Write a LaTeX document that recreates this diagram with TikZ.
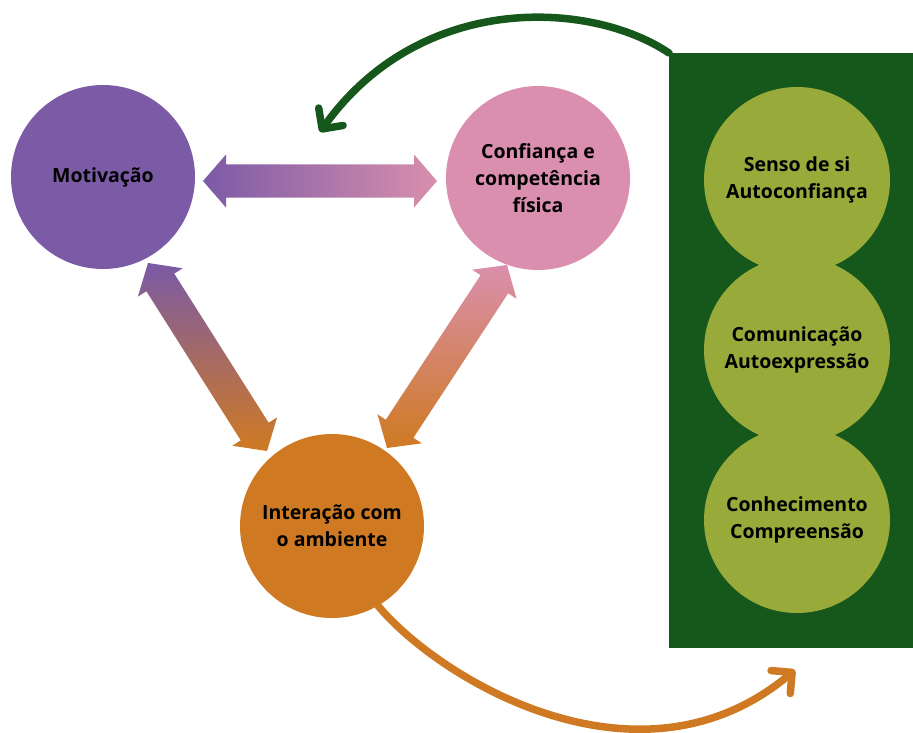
\documentclass[tikz,border=0pt]{standalone}
\usepackage{fontspec}
\setmainfont{Open Sans}
\usetikzlibrary{arrows.meta,calc}
\definecolor{cpurple}{HTML}{7B5AA6}
\definecolor{cpink}{HTML}{D98FAD}
\definecolor{corange}{HTML}{CF7A22}
\definecolor{cdgreen}{HTML}{16581B}
\definecolor{clgreen}{HTML}{98AB3A}
\newcommand\fatarrow[3]{%
  \coordinate (fa1) at ($(#1)!23pt!(#2)$);
  \coordinate (fa2) at ($(#2)!23pt!(#1)$);
  \shade[#3] (#1) -- ($(fa1)!26.5pt!90:(#2)$) -- ($(fa1)!16.5pt!90:(#2)$)
     -- ($(fa2)!16.5pt!-90:(#1)$) -- ($(fa2)!26.5pt!-90:(#1)$) -- (#2)
     -- ($(fa2)!26.5pt!90:(#1)$) -- ($(fa2)!16.5pt!90:(#1)$)
     -- ($(fa1)!16.5pt!-90:(#2)$) -- ($(fa1)!26.5pt!-90:(#2)$) -- cycle;}
\begin{document}
\begin{tikzpicture}[x=1pt,y=1pt,
  bubble/.style={circle, minimum size=184pt, inner sep=0pt, align=center,
    font=\fontsize{19.5}{27}\selectfont\bfseries, text=black},
  curvearrow/.style={line width=7.5pt, line cap=round,
    -{Straight Barb[length=15pt,width=30pt,line cap=round,line join=round]}}]
\useasboundingbox (0,0) rectangle (913,-733);
% main circles
\node[bubble, fill=cpurple] (mot) at (103,-177) {Motivação};
\node[bubble, fill=cpink] (conf) at (538,-178) {Confiança e\\competência\\física};
\node[bubble, fill=corange] (inter) at (332,-526) {Interação com\\o ambiente};
% green panel
\node[fill=cdgreen, minimum width=244pt, minimum height=595pt, inner sep=0pt,
  anchor=north west] (panel) at (669,-53) {};
\node[bubble, fill=clgreen, minimum size=186pt] (senso) at (797,-180) {Senso de si\\Autoconfiança};
\node[bubble, fill=clgreen, minimum size=186pt] (comu) at (797,-350) {Comunicação\\Autoexpressão};
\node[bubble, fill=clgreen, minimum size=186pt] (conh) at (797,-520) {Conhecimento\\Compreensão};
% fat double arrows
\coordinate (h1) at (203,-181);
\coordinate (h2) at (437,-181);
\fatarrow{h1}{h2}{left color=cpurple, right color=cpink}
\coordinate (l1) at (148,-263);
\coordinate (l2) at (267,-451);
\fatarrow{l1}{l2}{top color=cpurple, bottom color=corange}
\coordinate (r1) at (507,-265);
\coordinate (r2) at (387,-448);
\fatarrow{r1}{r2}{top color=cpink, bottom color=corange}
% curved arrows
\coordinate (gtip) at (320,-132);
\draw[curvearrow, cdgreen] (panel.north west) .. controls (590,0) and (420,8) .. (gtip);
\coordinate (otip) at (795,-670);
\draw[curvearrow, corange] (inter.-60) .. controls (440,-680) and (640,-800) .. (otip);
\end{tikzpicture}
\end{document}
